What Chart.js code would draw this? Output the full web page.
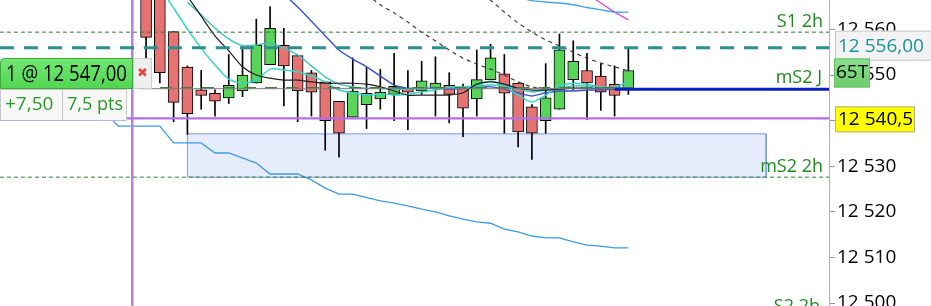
<!DOCTYPE html>
<html lang="fr">
<head>
<meta charset="UTF-8">
<title>65T - graphique</title>
<script src="https://cdn.jsdelivr.net/npm/chart.js@4"></script>
<style>
  html, body { margin: 0; padding: 0; background: #fff; }
  #wrap { width: 931px; height: 306px; position: relative; }
</style>
</head>
<body>
<div id="wrap"><canvas id="chart"></canvas></div>
<script>
// bougies (index 1..36)
const candleIdx = [1,2,3,4,5,6,7,8,9,10,11,12,13,14,15,16,17,18,19,20,21,22,23,24,25,26,27,28,29,30,31,32,33,34,35,36]
const opens  = [12572,12570,12559.5,12551.75,12546.75,12546,12545,12546.5,12548.25,12552.25,12556.5,12554.25,12550.5,12548.5,12544.25,12540.75,12543.5,12544.75,12545.75,12547,12546.5,12547.25,12547.75,12547.25,12544.75,12549,12550.25,12548.25,12543,12540,12542.5,12549,12551,12549.75,12548,12546.75]
const highs  = [12575,12573,12559.5,12552,12551,12546.75,12554.5,12556.25,12562.25,12565,12560.25,12554.25,12551,12548.5,12544.25,12553.75,12551.75,12551.25,12554.75,12551,12553,12554,12550.5,12548,12555.5,12556.75,12554.5,12548.25,12543.5,12552.5,12559,12557.5,12554.75,12552.5,12552,12556]
const lows   = [12553.75,12548.25,12539.75,12537,12542.5,12541,12543.75,12545.25,12548.25,12552.25,12543.25,12539.75,12541,12533.5,12532,12540.75,12538.25,12542.5,12540,12538,12545.75,12541,12539.5,12536.5,12541,12549,12537.25,12534.25,12531.5,12537.25,12542.5,12546.75,12540.25,12542.25,12541,12545.75]
const closes = [12558.25,12550.5,12544,12541.5,12545.5,12544.25,12547.75,12550,12556.5,12560.25,12552,12546.5,12546.25,12540,12537.25,12546.5,12546,12546.25,12547.5,12546.25,12548.75,12548.25,12545.75,12542.75,12549,12553.75,12546,12537.5,12537.25,12545,12555.5,12553,12548.25,12546.25,12545.5,12551]

// moyennes mobiles (null = pas de valeur)
const blueMA = [null,null,null,null,null,null,null,null,null,null,12567.8,12564.9,12561.8,12558.6,12555.5,12553.5,12551.8,12549.8,12547.8,12547.1,12547.1,12547.1,12546.9,12547.1,12547.4,12547.4,12546.9,12546.1,12545.4,12546.1,12546.5,12546.5,12546.7,12546.7,12546.9,12546.9]
const blackMA = [null,null,null,12567.3,12562.9,12558.6,12555.3,12551.8,12550,12549.3,12548.9,12548.9,12548.5,12548.2,12548.2,12548.2,12548,12547.4,12546.5,12545.6,12545.6,12545.6,12545.6,12546.1,12548,12548.5,12548,12547.1,12546.7,12546.7,12546.9,12547.1,12547.1,12547.1,12547.1,12547.1]
const cyanFast = [null,12569.1,12564.7,12560.1,12555.9,12552.2,12549.1,12548.2,12548.9,12551.3,12551.1,12550.7,12549.8,12548.5,12546.7,12546.1,12545.6,12545.8,12545.6,12545.8,12546.3,12546.7,12547.4,12547.4,12547.6,12548.7,12547.6,12545.6,12544.1,12545.6,12547.6,12548.2,12548,12547.4,12547.4,12548.5]
const cyanSlow = [null,null,null,12566,12563.2,12560.3,12557.9,12556.4,12556.6,12557,12555.9,12554.4,12552,12549.6,12548,12547.4,12547.1,12547.1,12546.9,12546.9,12547.1,12547.1,12547.1,12547.1,12547.4,12547.8,12547.6,12546.9,12546.3,12546.7,12547.1,12547.6,12547.6,12547.4,12547.1,12547.4]
const dashedA = [null,null,null,null,null,null,null,null,null,null,null,null,null,null,null,null,12567.7,12565.4,12563.6,12561.6,12559.4,12557.5,12555.5,12553.7,12552.4,12551.3,12550,12548.5,12547.4,12546.9,12547.1,12547.1,12547.1,12547.1,12547.1,12547.1]
const dashedB = [null,null,null,null,null,null,null,null,null,null,null,null,null,null,null,null,null,null,null,null,null,null,null,null,12568.6,12566.4,12563.8,12561.4,12559.4,12557.7,12556.4,12555,12553.7,12552.6,12551.8,12550.9]
const topBlue = [null,null,null,null,null,null,null,null,null,null,null,null,null,null,null,null,null,null,null,null,null,null,null,null,null,null,null,12567.1,12566.3,12566,12565.8,12565.4,12564.8,12564.3,12563.8,12563.8]
const pinkLine = [null,null,null,null,null,null,null,null,null,null,null,null,null,null,null,null,null,null,null,null,null,null,null,null,null,null,null,null,null,null,null,null,12567.8,12565.8,12563.8,12562.1]

// ligne bleue basse (en escalier)
const lowBlueIdx = [-1.4,-1,2,3,5,6,7,9,10,12,13,14,15,16,18,19,20,21,22,23,24,25,26,27,28,29,30,31,32,33,34,35,36]
const lowBlueVals = [12539.9,12538.8,12538.8,12535.1,12535.1,12532.9,12532.9,12530.7,12528.3,12528.3,12527,12525.2,12523.9,12523.9,12522.4,12521.9,12521.3,12520.6,12520,12519.1,12518.4,12517.8,12517.5,12516.2,12515.6,12514.7,12514.3,12514.3,12513.4,12512.7,12512.5,12512.1,12512.1]

// niveaux
const levelS1 = 12559.4
const levelTarget = 12556
const levelEntry = 12547
const levelMS2J = 12546.9
const levelStop = 12540.5
const levelMS2h = 12527.6
const levelS2 = 12497.4
const boxTop = 12537.1
const boxBottom = 12527.6
const boxStart = 4
const boxEnd = 46
const sessionStart = 0
const entryFrom = 0.5
const entryTo = 36.4
const ms2jFrom = 35

const yTicks = [12500, 12510, 12520, 12530, 12540, 12550, 12560]
const xMin = -9.6
const xMax = 50.56
const yMin = 12499.35
const yMax = 12566.45

const fmt = (v) => String(v).replace(/\B(?=(\d{3})+(?!\d))/g, ' ')
const fmtDec = (v, d) => fmt(Math.trunc(v)) + ',' + v.toFixed(d).split('.')[1]

const pts = (vals) => candleIdx.map((x, i) => ({ x, y: vals[i] }))
const hline = (y, from = xMin, to = xMax) => [{ x: from, y }, { x: to, y }]

const RED = '#e77272'
const GREEN = '#58d558'
const TXT_GREEN = '#1f8a1f'

function lineDs(data, color, width, extra = {}) {
  return Object.assign({
    type: 'line', data, borderColor: color, borderWidth: width,
    pointRadius: 0, fill: false, tension: 0.25, order: 10
  }, extra)
}

const overlay = {
  id: 'overlay',
  afterDraw(chart) {
    const { ctx, chartArea: a, scales: { y } } = chart
    ctx.save()
    ctx.textBaseline = 'alphabetic'

    // étiquettes des niveaux
    ctx.fillStyle = TXT_GREEN
    ctx.font = '18px "Open Sans"'
    ctx.textAlign = 'right'
    ctx.fillText('S1 2h', a.right - 6, y.getPixelForValue(levelS1) - 5)
    ctx.fillText('mS2 J', a.right - 7, y.getPixelForValue(levelMS2J) - 6)
    ctx.fillText('mS2 2h', a.right - 6, y.getPixelForValue(levelMS2h) - 5)
    ctx.fillText('S2 2h', a.right - 9, y.getPixelForValue(levelS2) - 3)

    // étiquettes sur l'axe
    ctx.textAlign = 'left'
    ctx.textBaseline = 'middle'
    const ax = a.right + 6
    let py = y.getPixelForValue(levelTarget)
    ctx.fillStyle = '#f3f3f3'
    ctx.strokeStyle = '#c9c9c9'
    ctx.fillRect(ax, py - 17, 100, 30)
    ctx.strokeRect(ax + 0.5, py - 16.5, 100, 29)
    ctx.fillStyle = '#1b9494'
    ctx.font = '19px "Open Sans"'
    ctx.fillText(fmtDec(levelTarget, 2), ax + 3, py - 1)

    py = y.getPixelForValue(closes[closes.length - 1])
    const g = ctx.createLinearGradient(0, py - 13, 0, py + 16)
    g.addColorStop(0, '#8fe08f')
    g.addColorStop(1, '#6acd6a')
    ctx.fillStyle = g
    ctx.fillRect(ax - 1, py - 12, 36, 29)
    ctx.strokeStyle = '#66c266'
    ctx.strokeRect(ax - 0.5, py - 11.5, 35, 28)
    ctx.fillStyle = '#000'
    ctx.font = '19px "Open Sans"'
    ctx.fillText('65T', ax + 1, py + 2, 33)

    py = y.getPixelForValue(levelStop)
    ctx.fillStyle = '#ffff00'
    ctx.fillRect(ax, py - 12, 80, 26)
    ctx.strokeStyle = '#b0b098'
    ctx.strokeRect(ax + 0.5, py - 11.5, 79, 25)
    ctx.fillStyle = '#000'
    ctx.fillText(fmtDec(levelStop, 1), ax + 3, py + 1)

    // position ouverte à gauche
    const eb = Math.round(y.getPixelForValue(levelEntry))
    const gb = ctx.createLinearGradient(0, eb - 31, 0, eb)
    gb.addColorStop(0, '#74e874')
    gb.addColorStop(1, '#50d650')
    ctx.fillStyle = gb
    ctx.beginPath()
    ctx.roundRect(0.5, eb - 30.5, 132, 30, [4, 0, 0, 0])
    ctx.fill()
    ctx.strokeStyle = '#3fa83f'
    ctx.stroke()
    ctx.fillStyle = '#000'
    ctx.font = '22px "Open Sans"'
    ctx.fillText('1 @ ' + fmtDec(levelEntry, 2), 6, eb - 14, 121)

    ctx.fillStyle = '#efefef'
    ctx.fillRect(133, eb - 31, 19, 31)
    ctx.strokeStyle = '#cccccc'
    ctx.strokeRect(133.5, eb - 30.5, 18, 30)
    ctx.fillStyle = '#e04848'
    ctx.font = 'bold 13px "DejaVu Sans"'
    ctx.textAlign = 'center'
    ctx.fillText('\u2716', 142.5, eb - 15)

    ctx.textAlign = 'left'
    ctx.fillStyle = '#f7f7f7'
    ctx.fillRect(0, eb, 127, 32)
    ctx.strokeStyle = '#c8c8c8'
    ctx.strokeRect(0.5, eb + 0.5, 126, 31)
    ctx.beginPath()
    ctx.moveTo(62.5, eb + 1)
    ctx.lineTo(62.5, eb + 31)
    ctx.stroke()
    ctx.strokeStyle = '#c4aee4'
    ctx.beginPath()
    ctx.moveTo(0, eb + 31.5)
    ctx.lineTo(126, eb + 31.5)
    ctx.stroke()
    ctx.fillStyle = '#279a27'
    ctx.font = '19px "Open Sans"'
    ctx.fillText('+7,50', 5, eb + 16, 52)
    ctx.fillText('7,5 pts', 67, eb + 16, 56)
    ctx.restore()
  }
}

new Chart(document.getElementById('chart'), {
  type: 'bar',
  data: {
    datasets: [
      // zone
      lineDs(hline(boxTop, boxStart, boxEnd), 'rgba(0,0,0,0)', 0,
        { fill: { value: boxBottom }, backgroundColor: '#e5ecfc', order: 100, tension: 0 }),
      lineDs([{ x: boxStart, y: boxBottom }, { x: boxStart, y: boxTop }, { x: boxEnd, y: boxTop }, { x: boxEnd, y: boxBottom }, { x: boxStart, y: boxBottom }],
        '#7d9be6', 1, { order: 99, tension: 0 }),
      // mèches
      {
        type: 'bar', data: candleIdx.map((x, i) => ({ x, y: [lows[i], highs[i]] })),
        backgroundColor: '#000', barThickness: 1, grouped: false, order: 50
      },
      // corps
      {
        type: 'bar', data: candleIdx.map((x, i) => ({ x, y: [opens[i], closes[i]] })),
        backgroundColor: candleIdx.map((x, i) => (closes[i] >= opens[i] ? GREEN : RED)),
        borderColor: '#000', borderWidth: 1, borderSkipped: false,
        barThickness: 11, grouped: false, order: 40
      },
      // ligne bleue basse
      lineDs(lowBlueIdx.map((x, i) => ({ x, y: lowBlueVals[i] })), '#3c9be4', 1.3, { tension: 0 }),
      // moyennes
      lineDs(pts(blackMA), '#1e1e1e', 1.2),
      lineDs(pts(cyanSlow), '#3fc4bc', 1.5),
      lineDs(pts(cyanFast), '#34d6c8', 1.5),
      lineDs(pts(blueMA), '#3550d6', 1.4, { tension: 0.15 }),
      lineDs(pts(dashedA), '#3a3a3a', 1.2, { borderDash: [4, 4] }),
      lineDs(pts(dashedB), '#3a3a3a', 1.2, { borderDash: [4, 4] }),
      lineDs(pts(topBlue), '#4aa3e2', 1.4),
      lineDs(pts(pinkLine), '#e04cd6', 1.4, { tension: 0 }),
      // niveaux horizontaux
      lineDs(hline(levelS1), '#2e7f2e', 1, { borderDash: [4, 3], order: 8 }),
      lineDs(hline(levelTarget), '#2b8e8e', 3, { borderDash: [14, 10], order: 8 }),
      lineDs(hline(levelEntry, entryFrom, entryTo), '#7a7a7a', 1, { order: 9 }),
      lineDs(hline(levelEntry + 0.2, entryFrom, entryTo), '#4c7a3c', 1.5, { borderDash: [12, 9], order: 9 }),
      lineDs(hline(levelMS2J, ms2jFrom), '#0a1ec4', 3, { order: 8 }),
      lineDs(hline(levelStop), '#b46fe6', 2.2, { order: 8 }),
      lineDs(hline(levelMS2h), '#2e7f2e', 1, { borderDash: [4, 3], order: 8 }),
      lineDs(hline(levelS2), '#2e7f2e', 1, { borderDash: [4, 3], order: 8 }),
      // début de séance
      lineDs([{ x: sessionStart, y: yMin - 5 }, { x: sessionStart, y: yMax + 5 }], '#b67ee0', 2.5, { order: 8, tension: 0 })
    ]
  },
  options: {
    responsive: true,
    maintainAspectRatio: false,
    animation: false,
    layout: { padding: 0 },
    plugins: { legend: { display: false }, tooltip: { enabled: false } },
    scales: {
      x: { type: 'linear', display: false, min: xMin, max: xMax, offset: false },
      y: {
        position: 'right',
        min: yMin,
        max: yMax,
        afterBuildTicks: (s) => { s.ticks = yTicks.map((v) => ({ value: v })) },
        afterFit: (s) => { s.width = 102; s.paddingTop = 0; s.paddingBottom = 0 },
        ticks: { color: '#000', font: { family: 'Open Sans', size: 19 }, padding: 2, callback: (v) => fmt(v) },
        grid: { drawOnChartArea: false, tickLength: 6, color: '#9a9a9a' },
        border: { color: '#b0b0b0' }
      }
    }
  },
  plugins: [overlay]
})
</script>
</body>
</html>
